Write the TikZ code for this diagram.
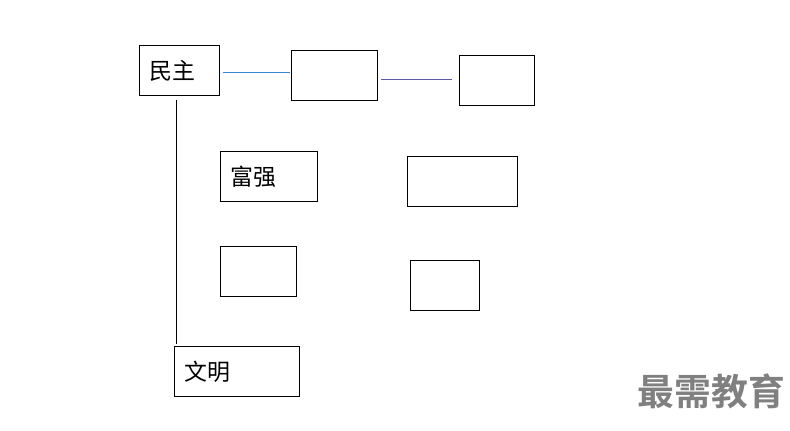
\documentclass[tikz,border=0pt]{standalone}
\usepackage{fontspec}
\setmainfont{Noto Sans CJK SC}
\newfontfamily\cjkbold{Noto Sans CJK SC Bold}
\usetikzlibrary{positioning}

\begin{document}
\begin{tikzpicture}[
    x=0.75pt, y=-0.75pt,
    font=\fontsize{17.2pt}{19pt}\selectfont,
    box/.style={
        draw=black,
        line width=0.75pt,
        anchor=north west,
        align=left,
        inner xsep=7.5pt,
        inner ysep=0pt,
        minimum height=37.5pt
    },
    bluelink/.style={
        draw=blue!45!cyan!60!gray,
        line width=0.75pt
    },
    greylink/.style={
        draw=blue!30!gray,
        line width=0.75pt
    },
    trunk/.style={
        draw=black,
        line width=0.75pt
    }
]

\useasboundingbox (0,0) rectangle (790,430);

% Top row
\node[box, text width=45pt] (minzhu) at (139,45) {民主};
\node[box, text width=49.5pt] (node_b) at (291,50) {};
\node[box, text width=41.25pt] (node_c) at (459,55) {};

% Middle rows
\node[box, text width=57.75pt] (fuqiang) at (220,151) {富强};
\node[box, text width=67.5pt] (node_d) at (407,156) {};
\node[box, text width=42pt] (node_e) at (220,246) {};
\node[box, text width=36.75pt] (node_f) at (410,260) {};

% Bottom
\node[box, text width=78.75pt] (wenming) at (174,346) {文明};

% Watermark
\node[text=black!50, font=\cjkbold\fontsize{27.6pt}{30pt}\selectfont] (mark) at (711.5,391.5) {最需教育};

% Connections
\draw[bluelink] ([shift={(3,2)}]minzhu.east) -- ([shift={(-1,-3)}]node_b.west);
\draw[greylink] ([shift={(3,4)}]node_b.east) -- ([shift={(-7,-1)}]node_c.west);
\draw[trunk] ([shift={(37,4)}]minzhu.south west) -- ([shift={(2,-2)}]wenming.north west);

\end{tikzpicture}
\end{document}
